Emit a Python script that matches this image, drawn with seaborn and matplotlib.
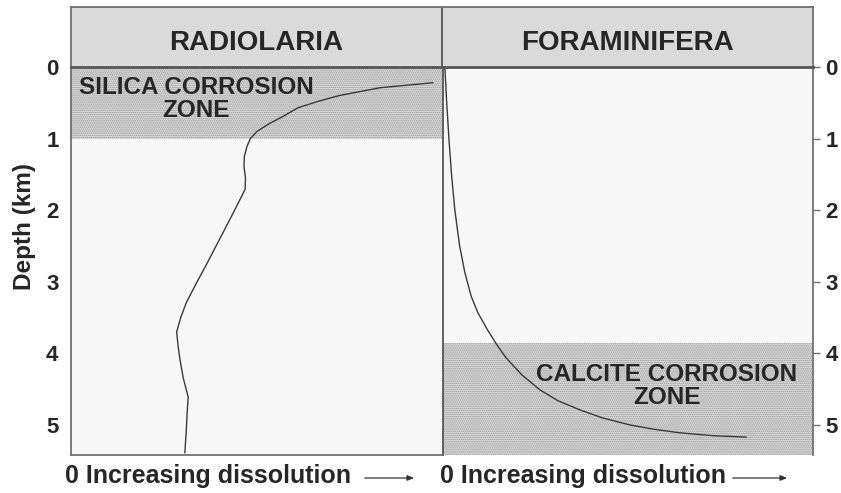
import matplotlib
matplotlib.use("Agg")
import matplotlib.pyplot as plt
import seaborn as sns
import pandas as pd

# depth (km) vs relative dissolution (0 = none, 1 = panel edge)
radio_depth = [0.22, 0.29, 0.40, 0.48, 0.57, 0.69, 0.80, 0.90, 1.00, 1.11, 1.25, 1.39,
               1.55, 1.71, 2.04, 2.30, 2.50, 2.75, 3.01, 3.29, 3.50, 3.70, 3.90, 4.09,
               4.35, 4.61, 4.85, 5.07, 5.39]
radio_diss = [0.973, 0.83, 0.72, 0.664, 0.61, 0.57, 0.53, 0.50, 0.482, 0.473, 0.466, 0.465,
              0.469, 0.468, 0.436, 0.41, 0.39, 0.365, 0.338, 0.31, 0.295, 0.284, 0.288, 0.293,
              0.302, 0.315, 0.312, 0.31, 0.306]

foram_depth = [0.0, 0.5, 1.0, 1.5, 2.0, 2.5, 2.87, 3.2, 3.43, 3.67, 3.9, 4.06, 4.3,
               4.51, 4.66, 4.79, 4.9, 5.0, 5.06, 5.11, 5.15, 5.17]
foram_diss = [0.005, 0.010, 0.016, 0.023, 0.032, 0.045, 0.059, 0.076, 0.094, 0.12, 0.148,
              0.170, 0.213, 0.262, 0.31, 0.37, 0.43, 0.505, 0.57, 0.64, 0.73, 0.82]

silica_zone = (0.0, 1.0)
calcite_zone = (3.85, 5.42)
depth_ticks = [0, 1, 2, 3, 4, 5]
panels = ["RADIOLARIA", "FORAMINIFERA"]

radio = pd.DataFrame({"diss": radio_diss, "depth": radio_depth})
foram = pd.DataFrame({"diss": foram_diss, "depth": foram_depth})

sns.set_theme(style="white")
plt.rcParams["font.family"] = ["Liberation Sans", "DejaVu Sans"]
plt.rcParams["hatch.linewidth"] = 0.7

W, H = 841, 493
fig = plt.figure(figsize=(W / 100, H / 100), dpi=100)
fig.patch.set_facecolor("white")

txt = "#262626"
edge = "#707070"
bg = "#f7f7f7"


def fx(px):
    return px / W


def fy(py):
    return 1 - py / H


ax1 = fig.add_axes([fx(71), fy(455), fx(372), 388 / H])
ax2 = fig.add_axes([fx(443), fy(455), fx(370), 388 / H])
head = fig.add_axes([fx(71), fy(67), fx(742), 60 / H])

# corrosion zones (stippled)
ax1.axhspan(*silica_zone, facecolor="#d9d9d9", edgecolor="#999999",
            hatch="........", lw=0, zorder=0)
ax2.axhspan(*calcite_zone, facecolor="#d9d9d9", edgecolor="#999999",
            hatch="........", lw=0, zorder=0)

sns.lineplot(data=radio, x="diss", y="depth", sort=False, estimator=None,
             color="#3a3a3a", lw=1.0, ax=ax1)
sns.lineplot(data=foram, x="diss", y="depth", sort=False, estimator=None,
             color="#3a3a3a", lw=1.0, ax=ax2)

ax2.yaxis.tick_right()
for ax in (ax1, ax2):
    ax.set_facecolor(bg)
    ax.set_xlabel("")
    ax.set_ylabel("")
    ax.set_xlim(0, 1)
    ax.set_ylim(5.42, 0)
    ax.set_xticks([])
    ax.set_yticks(depth_ticks)
    ax.tick_params(axis="y", length=5, width=1, color=edge, pad=4,
                   labelsize=16, labelcolor=txt)
    plt.setp(ax.yaxis.get_ticklabels(), fontweight="bold")
    for s in ax.spines.values():
        s.set_color(edge)
        s.set_linewidth(1.3)

ax1.spines["top"].set_visible(False)
ax1.spines["right"].set_visible(False)
ax2.spines["top"].set_visible(False)
ax2.spines["bottom"].set_visible(False)
ax2.spines["left"].set_color("#555555")

ax1.set_ylabel("Depth (km)", fontsize=17.5, fontweight="bold", color=txt)
ax1.yaxis.set_label_coords(-0.093, 0.588)

ax1.text(0.336, 0.45, "SILICA CORROSION\nZONE", ha="center", va="center",
         multialignment="center", fontsize=17.5, fontweight="bold", color=txt,
         linespacing=1.0)
ax2.text(0.605, 4.45, "CALCITE CORROSION\nZONE", ha="center", va="center",
         multialignment="center", fontsize=17.5, fontweight="bold", color=txt,
         linespacing=1.0)

# header strip
head.set_facecolor("#dadada")
head.set_xlim(0, 2)
head.set_ylim(0, 1)
head.set_xticks([])
head.set_yticks([])
for s in head.spines.values():
    s.set_color(edge)
    s.set_linewidth(1.3)
head.spines["bottom"].set_color("#555555")
head.spines["bottom"].set_linewidth(2)
head.axvline(1, color="#555555", lw=1.3)
for i, name in enumerate(panels):
    head.text(i + 0.5, 0.40, name, ha="center", va="center", fontsize=20,
              fontweight="bold", color=txt)

# bottom captions with arrows
for x0, a0, a1 in [(65, 362, 417), (440, 730, 790)]:
    fig.text(fx(x0), fy(483), "0 Increasing dissolution", ha="left", va="baseline",
             fontsize=18, fontweight="bold", color=txt)
    fig.add_artist(matplotlib.patches.FancyArrowPatch(
        (fx(a0), fy(478)), (fx(a1), fy(478)), transform=fig.transFigure,
        arrowstyle="-|>,head_length=4,head_width=1.6", color="#333333", lw=0.9))

fig.savefig("out.png", dpi=100)
